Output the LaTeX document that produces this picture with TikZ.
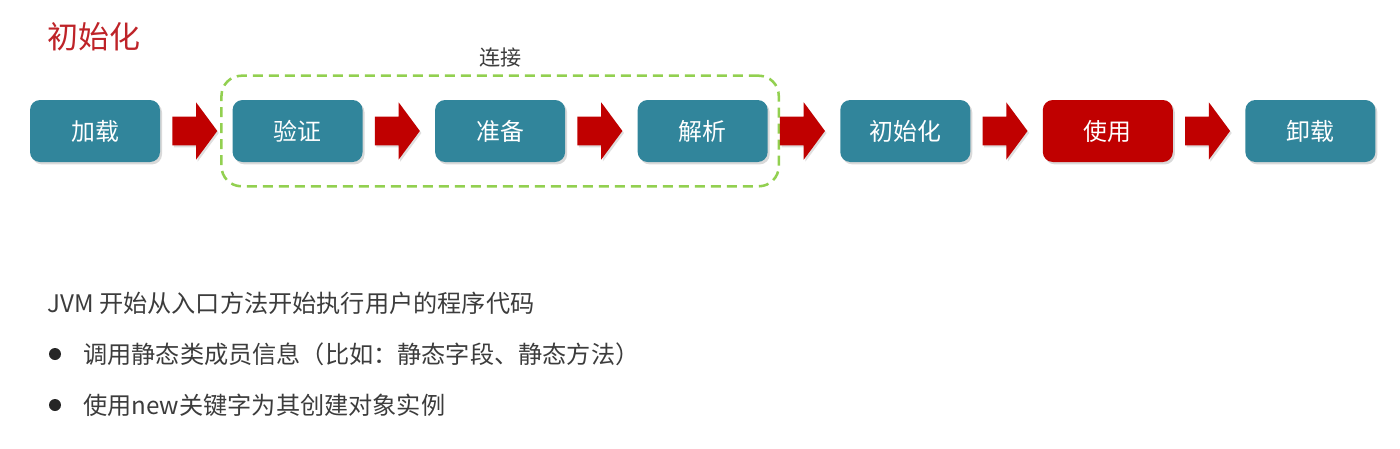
\documentclass[tikz,border=0pt]{standalone}
\usepackage{fontspec}
\setmainfont{Noto Sans CJK SC}
\usetikzlibrary{shapes.arrows, positioning, fit, shadows, calc}

\definecolor{stageteal}{RGB}{49,133,155}
\definecolor{usered}{RGB}{192,0,0}
\definecolor{linkgreen}{RGB}{146,208,80}
\definecolor{titlered}{RGB}{190,35,40}
\definecolor{bodygray}{RGB}{60,60,60}

\begin{document}
\begin{tikzpicture}[
    stage/.style={rectangle, rounded corners=0.25cm, fill=stageteal, text=white,
                  minimum width=3.25cm, minimum height=1.55cm, align=center,
                  font=\fontsize{17}{20}\selectfont,
                  drop shadow={opacity=0.3, shadow xshift=0.05cm, shadow yshift=-0.06cm}},
    fatarrow/.style={single arrow, fill=usered, inner xsep=0pt, inner ysep=0.35cm,
                     minimum height=1.125cm, minimum width=1.425cm,
                     single arrow head extend=0.36cm, single arrow tip angle=107,
                     xshift=-0.17cm,
                     drop shadow={opacity=0.25, shadow xshift=0.04cm, shadow yshift=-0.05cm}},
    linkbox/.style={draw=linkgreen, line width=1.8pt, dash pattern=on 0.25cm off 0.15cm,
                    rounded corners=0.5cm, inner xsep=0.27cm, inner ysep=0.6cm},
    lab/.style={font=\fontsize{15}{18}\selectfont, text=bodygray},
    body/.style={anchor=west, inner sep=0pt, font=\fontsize{17.2}{20}\selectfont, text=bodygray},
    dot/.style={circle, fill=black!85, inner sep=0pt, minimum size=0.3cm},
]
\useasboundingbox (0,0) rectangle (35,-11.225);

% ---------- Title ----------
\node[anchor=west, inner sep=0pt, text=titlered, font=\fontsize{22}{26}\selectfont]
      (title) at (1.175,-0.925) {初始化};

% ---------- Stages (left -> right) ----------
\node[stage]                          (load)   at (2.375,-3.275) {加载};
\node[stage, right=1.8cm of load]     (verify) {验证};
\node[stage, right=1.8cm of verify]   (prep)   {准备};
\node[stage, right=1.8cm of prep]     (parse)  {解析};
\node[stage, right=1.8cm of parse]    (init)   {初始化};
\node[stage, fill=usered, right=1.8cm of init] (use) {使用};
\node[stage, right=1.8cm of use]      (unload) {卸载};

% ---------- Linking group ----------
\node[linkbox, fit=(verify)(parse)] (link) {};
\node[lab, above=0.05cm of link.north] (linklab) {连接};

% ---------- Block arrows between stages ----------
\node[fatarrow] (ar1) at ($(load.east)!0.5!(verify.west)$)  {};
\node[fatarrow] (ar2) at ($(verify.east)!0.5!(prep.west)$)  {};
\node[fatarrow] (ar3) at ($(prep.east)!0.5!(parse.west)$)   {};
\node[fatarrow] (ar4) at ($(parse.east)!0.5!(init.west)$)   {};
\node[fatarrow] (ar5) at ($(init.east)!0.5!(use.west)$)     {};
\node[fatarrow] (ar6) at ($(use.east)!0.5!(unload.west)$)   {};

% ---------- Notes ----------
\node[body] (note)  at (1.175,-7.575)  {JVM 开始从入口方法开始执行用户的程序代码};
\node[dot]  (dota)  at (1.375,-8.85)   {};
\node[body] (notea) at (2.075,-8.85)   {调用静态类成员信息（比如：静态字段、静态方法）};
\node[dot]  (dotb)  at (1.375,-10.125) {};
\node[body] (noteb) at (2.075,-10.125) {使用new关键字为其创建对象实例};

\end{tikzpicture}
\end{document}
